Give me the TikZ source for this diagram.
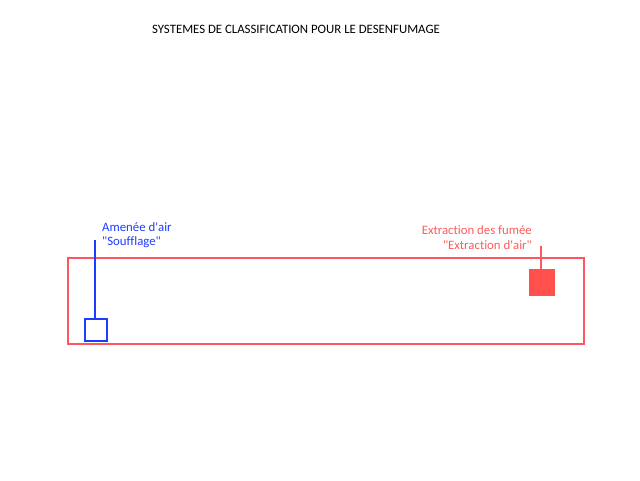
\documentclass[tikz,border=0pt]{standalone}
\usepackage{fontspec}
\setmainfont{Carlito}[Ligatures={TeXOff,NoCommon}]
\definecolor{framered}{RGB}{255,85,95}
\definecolor{boxred}{RGB}{255,80,75}
\definecolor{lblred}{RGB}{255,90,90}
\definecolor{boxblue}{RGB}{30,60,255}
\begin{document}
\begin{tikzpicture}[x=1pt,y=-1pt,
  lbl/.style={inner sep=0pt,font=\fontsize{12.8}{15}\selectfont},
  bluelbl/.style={lbl,text=boxblue,anchor=west},
  redlbl/.style={lbl,text=lblred,anchor=east},
  thick line/.style={line width=1.8pt}]
\useasboundingbox (0,0) rectangle (640,480);
\node[lbl,text=black] (title) at (296,29) {SYSTEMES DE CLASSIFICATION POUR LE DESENFUMAGE};
\node[draw=framered,thick line,minimum width=516pt,minimum height=86pt,inner sep=0pt,anchor=north west] (room) at (67,257) {};
\node[draw=boxblue,thick line,minimum width=22pt,minimum height=22pt,inner sep=0pt,anchor=north west] (inlet) at (84,318) {};
\node[fill=boxred,minimum width=26pt,minimum height=27pt,inner sep=0pt,anchor=north west] (outlet) at (529,269) {};
\node[bluelbl] (l1) at (102,227) {Amenée d'air};
\node[bluelbl] (l2) at (102,242) {"Soufflage"};
\node[redlbl] (r1) at (532,230) {Extraction des fumée};
\node[redlbl] (r2) at (532,245) {"Extraction d'air"};
\coordinate (bt) at (95,240);
\coordinate (rt) at (541,246);
\draw[boxblue,thick line] (bt) -- (bt |- inlet.north);
\draw[lblred,thick line] (rt) -- (rt |- outlet.north);
\end{tikzpicture}
\end{document}
